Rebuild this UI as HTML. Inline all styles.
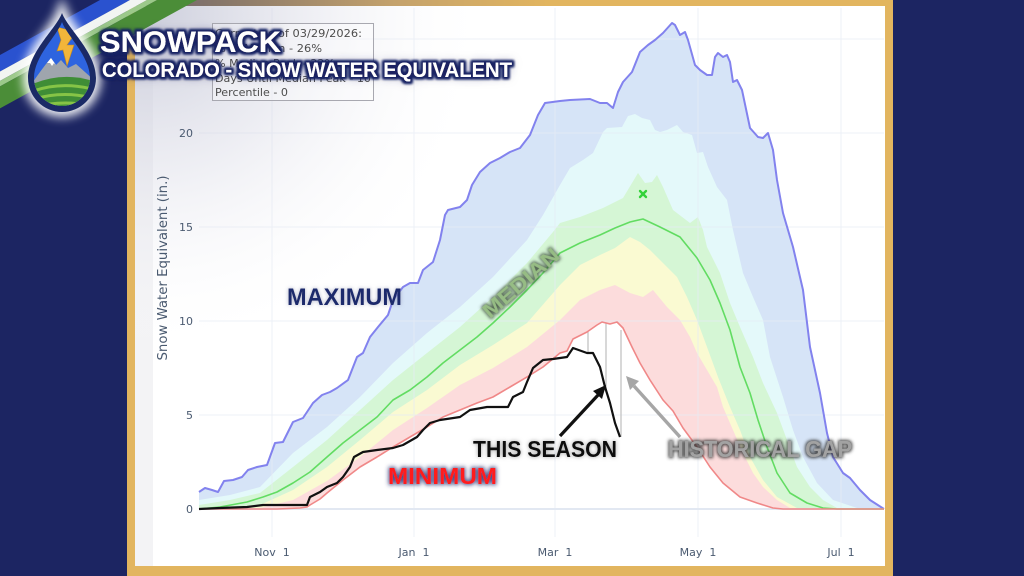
<!DOCTYPE html>
<html><head><meta charset="utf-8"><style>
html,body{margin:0;padding:0;background:#1c2562;}
svg{display:block;}
</style></head><body>
<svg width="1024" height="576" viewBox="0 0 1024 576" xmlns="http://www.w3.org/2000/svg">
<defs>
<filter id="fTitle" x="-10%" y="-60%" width="120%" height="220%">
 <feMorphology in="SourceAlpha" operator="dilate" radius="2" result="d"/>
 <feGaussianBlur in="d" stdDeviation="1.3" result="b"/>
 <feFlood flood-color="#1a2463"/>
 <feComposite in2="b" operator="in" result="s"/>
 <feGaussianBlur in="SourceAlpha" stdDeviation="5" result="b2"/>
 <feFlood flood-color="#1a2463" flood-opacity="0.6"/>
 <feComposite in2="b2" operator="in" result="s2"/>
 <feMerge><feMergeNode in="s2"/><feMergeNode in="s"/><feMergeNode in="s"/><feMergeNode in="SourceGraphic"/></feMerge>
</filter>
<filter id="fMax" x="-20%" y="-60%" width="140%" height="220%">
 <feGaussianBlur in="SourceAlpha" stdDeviation="2.2" result="b"/>
 <feFlood flood-color="#8a90b0" flood-opacity="0.7"/>
 <feComposite in2="b" operator="in" result="s"/>
 <feMerge><feMergeNode in="s"/><feMergeNode in="SourceGraphic"/></feMerge>
</filter>
<filter id="fMin" x="-20%" y="-60%" width="140%" height="220%">
 <feMorphology in="SourceAlpha" operator="dilate" radius="1" result="d"/>
 <feGaussianBlur in="d" stdDeviation="2" result="b"/>
 <feFlood flood-color="#2a3272" flood-opacity="0.85"/>
 <feComposite in2="b" operator="in" result="s"/>
 <feMerge><feMergeNode in="s"/><feMergeNode in="SourceGraphic"/></feMerge>
</filter>
<filter id="fSea" x="-20%" y="-60%" width="140%" height="220%">
 <feGaussianBlur in="SourceAlpha" stdDeviation="2" result="b"/>
 <feFlood flood-color="#777" flood-opacity="0.7"/>
 <feComposite in2="b" operator="in" result="s"/>
 <feMerge><feMergeNode in="s"/><feMergeNode in="SourceGraphic"/></feMerge>
</filter>
<filter id="fHist" x="-20%" y="-60%" width="140%" height="220%">
 <feMorphology in="SourceAlpha" operator="dilate" radius="1.2" result="d"/>
 <feGaussianBlur in="d" stdDeviation="1.6" result="b"/>
 <feFlood flood-color="#333" flood-opacity="0.9"/>
 <feComposite in2="b" operator="in" result="s"/>
 <feMerge><feMergeNode in="s"/><feMergeNode in="SourceGraphic"/></feMerge>
</filter>
<filter id="fMed" x="-30%" y="-80%" width="160%" height="260%">
 <feMorphology in="SourceAlpha" operator="dilate" radius="0.8" result="d"/>
 <feGaussianBlur in="d" stdDeviation="1.6" result="b"/>
 <feFlood flood-color="#3a4a3a" flood-opacity="0.85"/>
 <feComposite in2="b" operator="in" result="s"/>
 <feMerge><feMergeNode in="s"/><feMergeNode in="SourceGraphic"/></feMerge>
</filter>
<filter id="fBlur8" x="-50%" y="-50%" width="200%" height="200%"><feGaussianBlur stdDeviation="5"/></filter>
<radialGradient id="shade" cx="150" cy="15" r="340" gradientUnits="userSpaceOnUse">
 <stop offset="0" stop-color="#c4c6d6" stop-opacity="0.85"/>
 <stop offset="0.45" stop-color="#d8d9e5" stop-opacity="0.45"/>
 <stop offset="1" stop-color="#ffffff" stop-opacity="0"/>
</radialGradient>
<linearGradient id="topGold" x1="127" y1="0" x2="892" y2="0" gradientUnits="userSpaceOnUse">
 <stop offset="0" stop-color="#6a6072"/>
 <stop offset="0.12" stop-color="#86766a"/>
 <stop offset="0.35" stop-color="#c4a26c"/>
 <stop offset="0.55" stop-color="#e2b55f"/>
 <stop offset="1" stop-color="#e2b55f"/>
</linearGradient>
<clipPath id="panelClip"><rect x="135" y="6" width="750" height="560"/></clipPath>
<clipPath id="dropClip"><path d="M62,22 C57,36 34,56 34,78 A28,28 0 0 0 90,78 C90,56 67,36 62,22 Z"/></clipPath>
</defs>

<rect width="1024" height="576" fill="#1c2562"/>
<rect x="127" y="0" width="766" height="576" fill="#e2b55f"/>
<rect x="127" y="0" width="766" height="6" fill="url(#topGold)"/>
<rect x="135" y="6" width="750" height="560" fill="#ffffff"/>
<rect x="135" y="6" width="18" height="560" fill="#f3f3f5"/>

<g clip-path="url(#panelClip)">
<polygon fill="#d6e4f7" points="199,492 205,488 212,490 218,492 224,481 233,480 242,477 248,470 257,467 267,465 275,443 283,442 293,422 303,418 313,403 322,395 330,392 337,388 348,380 357,357 363,353 370,337 378,327 388,315 393,300 403,287 410,283 418,283 423,270 433,262 440,240 445,215 448,210 460,207 467,200 472,185 480,172 490,163 500,158 510,152 520,148 530,135 538,115 545,103 560,101 570,100 590,99 600,103 607,103 613,108 618,92 623,82 632,72 640,52 648,45 655,40 663,33 672,23 675,25 680,35 685,32 688,40 695,65 700,70 707,75 712,75 715,57 718,53 723,57 727,55 730,62 733,82 737,80 742,90 750,128 758,137 763,138 768,133 773,150 777,180 783,213 793,247 803,290 810,347 820,393 827,433 833,457 843,473 850,478 860,490 870,500 884,509 199,509"/>
<polygon fill="#e4f9fa" points="199,500 230,495 260,487 293,453 327,427 360,397 393,363 427,333 460,307 493,277 527,240 543,215 560,185 570,168 583,160 593,153 603,132 607,128 622,127 628,116 635,114 642,118 650,120 655,130 660,132 667,130 677,125 683,132 692,135 697,153 703,152 708,167 717,187 727,200 733,230 743,273 753,297 763,320 770,357 783,397 793,430 803,457 817,483 833,500 857,508 877,509 884,509 199,509"/>
<polygon fill="#d5f6d5" points="199,505 230,500 260,493 293,467 327,440 360,410 393,380 427,353 460,327 493,297 527,263 553,232 560,223 580,217 603,208 623,198 638,173 645,183 652,182 657,175 663,187 673,210 690,223 698,217 703,230 707,247 720,273 730,303 740,327 753,357 763,383 777,413 787,440 797,467 810,487 823,500 837,508 850,509 884,509 199,509"/>
<polygon fill="#fafad2" points="199,509 230,509 260,505 293,490 327,467 360,440 393,412 427,390 460,365 493,345 527,323 560,285 580,265 600,255 615,248 630,237 640,242 650,250 663,263 677,277 687,297 697,320 707,347 718,377 730,407 740,430 750,457 763,480 777,497 797,508 810,509 884,509 199,509"/>
<polygon fill="#fcdcdc" points="199,509 250,509 260,508 293,500 327,481 360,457 393,430 427,408 460,385 493,368 527,347 560,320 580,300 600,290 615,285 630,293 643,297 653,290 667,307 680,320 690,337 697,353 707,370 717,387 723,407 733,430 743,453 753,473 763,487 777,500 790,508 800,509 884,509 199,509"/>
<polygon fill="#ffffff" points="199,509 277,509 300,508 307,507 310,505 320,499 327,493 343,480 360,467 377,457 393,447 410,437 427,427 443,417 460,410 477,403 493,397 510,387 527,377 543,367 560,353 567,351 573,339 587,332 597,325 602,322 610,324 617,322 623,328 632,347 640,363 650,380 663,400 673,411 683,428 697,447 710,467 723,483 740,497 757,503 773,508 783,509 884,509 199,509"/>

<g stroke="#e6ecf5" stroke-width="1" opacity="0.75">
 <line x1="199" y1="39" x2="884" y2="39"/>
 <line x1="199" y1="133" x2="884" y2="133"/>
 <line x1="199" y1="227" x2="884" y2="227"/>
 <line x1="199" y1="321" x2="884" y2="321"/>
 <line x1="199" y1="415" x2="884" y2="415"/>
 <line x1="272" y1="8" x2="272" y2="537"/>
 <line x1="414" y1="8" x2="414" y2="537"/>
 <line x1="555" y1="8" x2="555" y2="537"/>
 <line x1="698" y1="8" x2="698" y2="537"/>
 <line x1="841" y1="8" x2="841" y2="537"/>
</g>
<line x1="199" y1="509" x2="884" y2="509" stroke="#e2e8f2" stroke-width="2"/>

<g stroke="#c4c4c4" stroke-width="1.3">
 <line x1="588" y1="332" x2="588" y2="353"/>
 <line x1="606" y1="323" x2="606" y2="390"/>
 <line x1="621" y1="330" x2="621" y2="437"/>
</g>

<polyline fill="none" stroke="#8282ee" stroke-width="2" stroke-linejoin="round" points="199,492 205,488 212,490 218,492 224,481 233,480 242,477 248,470 257,467 267,465 275,443 283,442 293,422 303,418 313,403 322,395 330,392 337,388 348,380 357,357 363,353 370,337 378,327 388,315 393,300 403,287 410,283 418,283 423,270 433,262 440,240 445,215 448,210 460,207 467,200 472,185 480,172 490,163 500,158 510,152 520,148 530,135 538,115 545,103 560,101 570,100 590,99 600,103 607,103 613,108 618,92 623,82 632,72 640,52 648,45 655,40 663,33 672,23 675,25 680,35 685,32 688,40 695,65 700,70 707,75 712,75 715,57 718,53 723,57 727,55 730,62 733,82 737,80 742,90 750,128 758,137 763,138 768,133 773,150 777,180 783,213 793,247 803,290 810,347 820,393 827,433 833,457 843,473 850,478 860,490 870,500 884,509"/>
<polyline fill="none" stroke="#62dc62" stroke-width="1.6" stroke-linejoin="round" points="199,509 220,507 247,502 263,497 277,492 293,483 310,472 327,457 343,443 360,430 377,417 393,400 410,390 427,377 443,363 460,350 477,337 493,323 510,307 527,290 543,273 560,253 580,243 600,235 615,228 630,222 643,219 660,227 680,237 697,258 710,280 720,303 730,330 740,367 750,393 758,420 767,447 777,473 790,493 807,503 823,508 837,509 884,509"/>
<polyline fill="none" stroke="#f08888" stroke-width="1.6" stroke-linejoin="round" points="199,509 277,509 300,508 307,507 310,505 320,499 327,493 343,480 360,467 377,457 393,447 410,437 427,427 443,417 460,410 477,403 493,397 510,387 527,377 543,367 560,353 567,351 573,339 587,332 597,325 602,322 610,324 617,322 623,328 632,347 640,363 650,380 663,400 673,411 683,428 697,447 710,467 723,483 740,497 757,503 773,508 783,509 884,509"/>
<polyline fill="none" stroke="#111111" stroke-width="2.2" stroke-linejoin="round" points="199,509 220,508 247,507 263,505 277,505 307,505 310,497 320,492 327,487 337,483 343,477 350,467 354,457 363,452 377,450 393,448 403,445 417,437 423,430 430,423 440,420 460,417 470,410 487,407 508,407 513,397 523,392 527,382 533,368 543,360 553,359 567,357 573,348 587,353 593,353 600,367 605,387 610,403 615,423 620,437"/>

<g stroke="#33d23a" stroke-width="2.4" stroke-linecap="round">
 <line x1="640" y1="191" x2="646" y2="197"/>
 <line x1="646" y1="191" x2="640" y2="197"/>
</g>

<line x1="560" y1="436" x2="599" y2="394" stroke="#111" stroke-width="3.2"/>
<polygon points="606,385 602,399 593,391" fill="#111"/>
<line x1="680" y1="437" x2="634" y2="386" stroke="#a6a6a6" stroke-width="3.4"/>
<polygon points="626,376 639,381 630,390" fill="#a6a6a6"/>

<rect x="135" y="6" width="750" height="560" fill="url(#shade)"/>
</g>

<g font-family="'DejaVu Sans', Verdana, sans-serif" font-size="11" fill="#4a5a70">
 <text x="193" y="137" text-anchor="end">20</text>
 <text x="193" y="231" text-anchor="end">15</text>
 <text x="193" y="325" text-anchor="end">10</text>
 <text x="193" y="419" text-anchor="end">5</text>
 <text x="193" y="513" text-anchor="end">0</text>
 <text x="272" y="556" text-anchor="middle" xml:space="preserve">Nov  1</text>
 <text x="414" y="556" text-anchor="middle" xml:space="preserve">Jan  1</text>
 <text x="555" y="556" text-anchor="middle" xml:space="preserve">Mar  1</text>
 <text x="698" y="556" text-anchor="middle" xml:space="preserve">May  1</text>
 <text x="841" y="556" text-anchor="middle" xml:space="preserve">Jul  1</text>
</g>
<text transform="translate(167,268) rotate(-90)" text-anchor="middle" font-family="'DejaVu Sans', Verdana, sans-serif" font-size="13" fill="#4a5a70" textLength="185" lengthAdjust="spacingAndGlyphs">Snow Water Equivalent (in.)</text>

<rect x="212.5" y="23.5" width="161" height="77" fill="#ffffff" fill-opacity="0.35" stroke="#a8a8b0" stroke-width="1"/>
<g font-family="'DejaVu Sans', Verdana, sans-serif" font-size="10.5" fill="#4d4d4d">
 <text x="215" y="37" textLength="147" lengthAdjust="spacingAndGlyphs">Current as of 03/29/2026:</text>
 <text x="215" y="52" textLength="107" lengthAdjust="spacingAndGlyphs">% of Median - 26%</text>
 <text x="215" y="67" textLength="120" lengthAdjust="spacingAndGlyphs">% Median Peak - 22%</text>
 <text x="215" y="82" textLength="156" lengthAdjust="spacingAndGlyphs">Days Until Median Peak - 10</text>
 <text x="215" y="96" textLength="73" lengthAdjust="spacingAndGlyphs">Percentile - 0</text>
</g>

<g font-family="'Liberation Sans', Arial, sans-serif" font-weight="bold">
 <text x="287" y="305" font-size="24" fill="#1f2c6c" textLength="115" lengthAdjust="spacingAndGlyphs" filter="url(#fMax)">MAXIMUM</text>
 <text transform="translate(490,319) rotate(-41)" font-size="20" fill="#96bc84" textLength="94" lengthAdjust="spacingAndGlyphs" filter="url(#fMed)">MEDIAN</text>
 <text x="388" y="484" font-size="23" fill="#ff1a1a" textLength="109" lengthAdjust="spacingAndGlyphs" filter="url(#fMin)">MINIMUM</text>
 <text x="473" y="457" font-size="23" fill="#0d0d0d" textLength="144" lengthAdjust="spacingAndGlyphs" filter="url(#fSea)">THIS SEASON</text>
 <text x="668" y="457" font-size="23" fill="#a2a2a2" textLength="184" lengthAdjust="spacingAndGlyphs" filter="url(#fHist)">HISTORICAL GAP</text>
</g>

<polygon points="100,0 130,0 0,71.5 0,55" fill="#2a52cf"/>
<polygon points="130,0 147,0 0,80.9 0,71.5" fill="#f2f5f2"/>
<polygon points="147,0 157,0 0,86.4 0,80.9" fill="#9cc98a"/>
<polygon points="157,0 197,0 0,108.4 0,86.4" fill="#4b8d38"/>

<path d="M62,14 C56,30 29,52 29,78 A33,33 0 0 0 95,78 C95,52 68,30 62,14 Z" fill="#ffffff" stroke="#ffffff" stroke-width="12" opacity="0.95" filter="url(#fBlur8)"/>
<path d="M62,13 C56,29 28,52 28,78 A34,34 0 0 0 96,78 C96,52 68,29 62,13 Z" fill="#1b2a66"/>
<g clip-path="url(#dropClip)">
 <rect x="30" y="18" width="64" height="95" fill="#2e64df"/>
 <polygon points="30,86 40,72 46,64 51,58 56,65 61,60 68,68 76,64 94,80 94,112 30,112" fill="#9fa5ad"/>
 <polygon points="51,58 47,63 50,63 52,66 54,63 56,65" fill="#ffffff"/>
 <path d="M28,86 Q62,70 96,82 L96,115 L28,115 Z" fill="#3f8d36"/>
 <path d="M28,93 Q60,80 96,90" fill="none" stroke="#86c446" stroke-width="3"/>
 <path d="M28,101 Q62,89 96,99" fill="none" stroke="#86c446" stroke-width="3"/>
 <path d="M28,109 Q62,98 96,107" fill="none" stroke="#86c446" stroke-width="3"/>
 <polygon points="57,27 76,32 67,45 74,45 67,66 63,50 57,51 61,40" fill="#f2b53a" stroke="#c48a20" stroke-width="0.6"/>
</g>

<g font-family="'Liberation Sans', Arial, sans-serif" font-weight="bold" fill="#ffffff" filter="url(#fTitle)">
 <text x="100" y="52" font-size="30" textLength="181" lengthAdjust="spacingAndGlyphs">SNOWPACK</text>
 <text x="102" y="77" font-size="21" textLength="410" lengthAdjust="spacingAndGlyphs">COLORADO - SNOW WATER EQUIVALENT</text>
</g>
</svg>
</body></html>
